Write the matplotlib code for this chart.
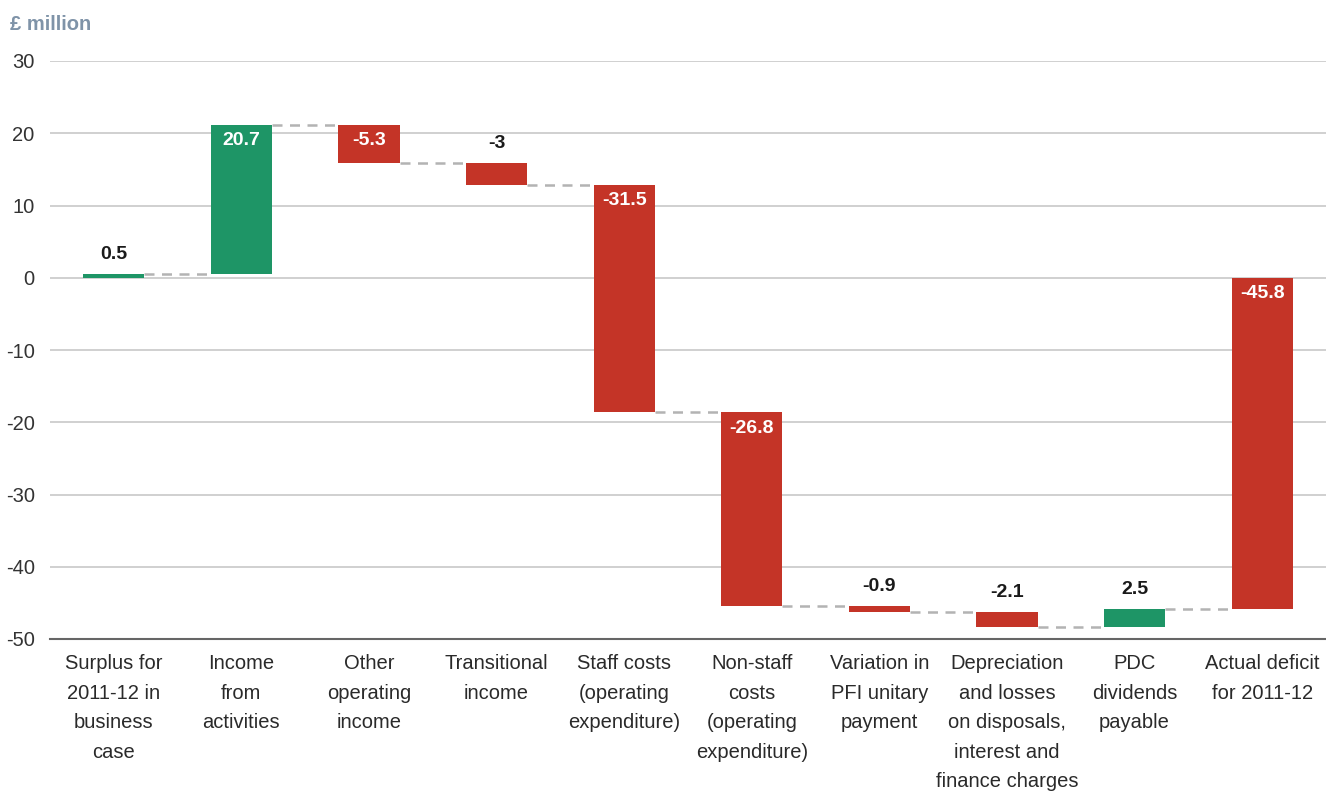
import matplotlib
matplotlib.use("Agg")
import matplotlib.pyplot as plt

plt.rcParams['font.family'] = ['Liberation Sans', 'DejaVu Sans']
plt.rcParams['axes.unicode_minus'] = False

categories = [
    "Surplus for\n2011-12 in\nbusiness\ncase",
    "Income\nfrom\nactivities",
    "Other\noperating\nincome",
    "Transitional\nincome",
    "Staff costs\n(operating\nexpenditure)",
    "Non-staff\ncosts\n(operating\nexpenditure)",
    "Variation in\nPFI unitary\npayment",
    "Depreciation\nand losses\non disposals,\ninterest and\nfinance charges",
    "PDC\ndividends\npayable",
    "Actual deficit\nfor 2011-12",
]
values = [0.5, 20.7, -5.3, -3, -31.5, -26.8, -0.9, -2.1, 2.5, -45.8]
is_total = [False, False, False, False, False, False, False, False, False, True]
value_labels = ["0.5", "20.7", "-5.3", "-3", "-31.5", "-26.8", "-0.9", "-2.1", "2.5", "-45.8"]
yticks = [30, 20, 10, 0, -10, -20, -30, -40, -50]

GREEN = "#1e9566"
RED = "#c43427"

fig = plt.figure(figsize=(13.26, 7.93), dpi=100)
ax = fig.add_axes([50 / 1326, (793 - 639) / 793, 1 - 50 / 1326, (639 - 61) / 793])

width = 0.48
running = 0.0
bases, tops = [], []
for i, v in enumerate(values):
    if is_total[i]:
        start, end = 0.0, v
    else:
        start, end = running, running + v
    running = end
    color = GREEN if v > 0 else RED
    ax.bar(i, end - start, bottom=start, width=width, color=color, zorder=3)
    bases.append(start)
    tops.append(end)

# dashed connectors between consecutive bars
for i in range(len(values) - 1):
    level = tops[i]
    ax.plot([i + width / 2, i + 1 - width / 2], [level, level],
            color="#b3b3b3", lw=1.8, ls=(0, (4, 3)), zorder=2)

# value labels
for i, v in enumerate(values):
    upper = max(bases[i], tops[i])
    if abs(v) < 4:
        ax.annotate(value_labels[i], (i, upper), xytext=(0, 8), textcoords="offset points",
                    ha="center", va="bottom", fontsize=14, fontweight="bold", color="#1a1a1a")
    else:
        ax.annotate(value_labels[i], (i, upper), xytext=(0, -11.5), textcoords="offset points",
                    ha="center", va="center", fontsize=14, fontweight="bold", color="white", zorder=4)

ax.set_xlim(-0.5, 9.5)
ax.set_ylim(-50, 30)
ax.set_yticks(yticks)
ax.yaxis.grid(True, color="#c8c8c8", lw=1.2, zorder=0)
ax.set_axisbelow(True)
for s in ["left", "right", "top"]:
    ax.spines[s].set_visible(False)
ax.spines["bottom"].set_color("#666666")
ax.spines["bottom"].set_linewidth(1.5)
ax.tick_params(axis="y", length=0, pad=11, labelsize=14.5, labelcolor="#333333")
ax.tick_params(axis="x", length=0, pad=11, labelsize=14.5, labelcolor="#2a2a2a")
ax.set_xticks(range(len(categories)))
ax.set_xticklabels(categories, linespacing=1.7, va="top")
for lbl in ax.get_yticklabels():
    lbl.set_horizontalalignment("right")

fig.text(10 / 1326, 1 - 24 / 793, "£ million", fontsize=14.5, fontweight="bold",
         color="#7f93a8", ha="left", va="center")

fig.savefig("out.png", dpi=100)
